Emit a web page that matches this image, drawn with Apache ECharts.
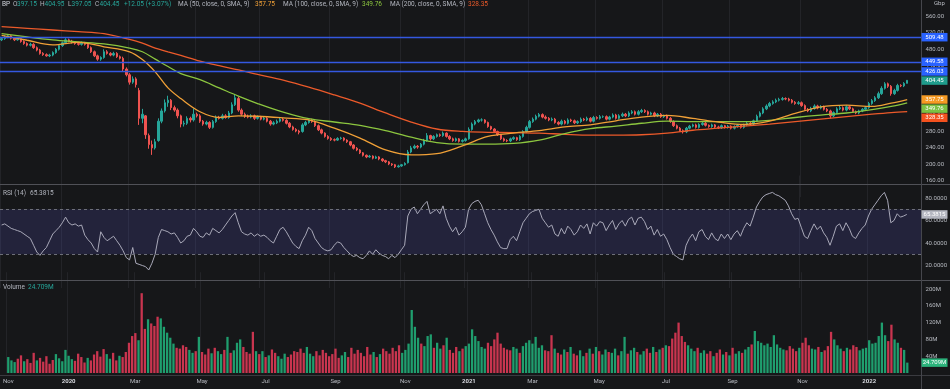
<!DOCTYPE html>
<html><head><meta charset="utf-8">
<script src="https://cdn.jsdelivr.net/npm/echarts@6/dist/echarts.min.js"></script>
<style>html,body{margin:0;padding:0;background:#161719;overflow:hidden}#c{width:950px;height:389px}</style>
</head><body><div id="c"></div>
<script>
// ---- data (each bucket ≈ 2 trading days, Nov 2019 – Feb 2022, GBp) ----
const opens = [
503,506,510,513,507,503,506,499,494,490,
492,484,478,470,467,464,466,472,480,489,
496,503,500,497,494,492,495,492,484,474,
464,456,460,474,470,466,470,462,458,432,
418,400,408,380,312,318,270,248,240,258,
305,330,350,356,338,332,318,298,300,312,
308,322,318,305,298,302,290,304,314,312,
318,314,325,345,360,332,322,317,315,318,
312,315,310,312,305,298,301,305,310,307,
300,291,285,281,280,296,302,308,304,294,
284,276,268,263,260,259,263,264,259,255,
247,239,235,228,222,218,220,215,218,213,
209,206,201,199,194,196,199,204,230,240,
244,242,249,258,270,262,268,272,270,276,
268,262,258,262,256,258,262,285,298,304,
308,308,302,292,286,280,272,262,258,257,
262,265,260,268,280,290,304,310,317,321,
315,312,308,310,302,298,305,300,308,306,
301,304,310,308,312,305,314,312,316,316,
310,315,320,312,318,322,318,325,328,322,
328,331,328,322,325,318,322,316,318,312,
304,294,288,282,279,288,293,296,290,297,
300,295,292,296,291,289,294,290,293,288,
292,295,290,296,300,298,306,317,325,335,
342,348,352,356,358,360,359,356,351,348,
350,343,334,330,336,342,337,340,334,330,
318,326,335,338,332,340,335,328,325,330,
334,338,348,355,362,372,385,396,390,372,
380,392,391,397.15];
const closes = [
506,510,513,507,503,506,499,494,490,492,
484,478,470,467,464,466,472,480,489,496,
503,500,497,494,492,495,492,484,474,464,
456,460,474,470,466,470,462,458,432,418,
400,408,394,312,322,272,248,240,255,305,
330,350,356,338,332,318,298,300,312,308,
322,318,305,298,302,290,304,314,312,318,
314,325,345,362,332,322,317,315,318,312,
315,310,312,305,298,301,305,310,307,300,
291,285,281,278,296,302,308,304,294,284,
276,268,263,260,259,263,264,259,255,247,
239,235,228,222,218,220,215,218,213,209,
206,201,199,194,196,199,202,230,240,244,
242,249,258,270,262,268,272,270,276,268,
262,258,262,256,258,262,285,298,304,308,
308,302,292,286,280,272,262,258,257,262,
265,260,268,280,290,304,310,317,321,315,
312,308,310,302,298,305,300,308,306,301,
304,310,308,312,305,314,312,316,316,310,
315,320,312,318,322,318,325,328,322,328,
331,328,322,325,318,322,316,318,312,304,
294,288,282,279,288,293,296,290,297,300,
295,292,296,291,289,294,290,293,288,292,
295,290,296,300,298,306,317,325,335,342,
348,352,356,358,360,359,356,351,348,350,
343,334,330,336,342,337,340,334,330,318,
326,335,338,332,340,335,328,325,330,334,
338,348,355,362,372,385,396,390,372,380,
392,391,397,404.45];
const highs = [
510,514,516,515,510,509,508,502,497,496,
495,487,481,473,470,469,475,483,492,499,
507,506,503,500,498,499,498,495,487,477,
467,463,480,478,473,474,473,465,462,436,
422,414,412,386,335,320,275,258,262,312,
336,358,367,359,343,336,321,306,317,316,
336,326,322,308,306,305,308,319,318,323,
322,330,351,371,364,336,326,321,322,321,
319,318,316,315,308,305,309,314,313,310,
303,294,288,284,300,306,312,311,307,297,
287,278,271,266,263,266,267,266,261,257,
249,242,237,230,224,223,222,221,220,215,
211,208,203,201,199,201,205,235,245,248,
247,252,262,276,272,271,275,275,280,278,
271,265,265,264,261,265,290,302,308,311,
312,310,304,294,288,282,274,265,261,265,
268,267,271,283,294,308,314,321,325,324,
319,315,314,313,305,309,308,312,311,309,
307,314,313,316,315,318,317,320,319,319,
318,324,323,322,326,325,329,332,331,332,
335,334,331,328,328,325,325,321,321,315,
307,297,291,285,291,296,299,299,300,303,
303,297,299,298,294,297,296,296,295,295,
298,297,299,303,303,309,321,329,339,346,
352,356,360,362,364,363,362,359,354,354,
353,346,337,340,346,345,344,343,337,333,
329,339,342,341,344,343,338,331,333,337,
342,352,359,366,377,390,400,399,393,384,
396,395,400,404.95];
const lows = [
500,503,507,504,500,501,496,491,487,487,
481,475,467,464,462,461,463,469,477,486,
493,497,494,491,489,489,489,481,471,461,
452,452,457,467,463,463,459,455,426,414,
394,396,387,296,300,262,238,223,236,255,
300,326,340,332,328,312,290,292,296,302,
304,314,301,294,295,286,287,301,309,309,
311,311,322,342,328,318,313,312,312,308,
309,307,307,302,294,295,298,302,304,297,
288,282,278,273,277,293,299,301,291,281,
273,265,260,257,256,257,260,256,252,244,
236,232,225,219,215,216,212,213,210,206,
203,198,196,191,192,194,197,202,227,237,
238,239,246,255,258,259,265,267,267,265,
259,255,255,253,253,255,260,282,295,301,
304,299,289,283,277,269,259,255,254,254,
259,257,257,265,277,287,301,307,314,312,
309,305,305,299,295,295,297,297,303,298,
298,301,305,305,302,302,309,309,313,307,
307,312,309,309,315,315,315,322,319,319,
325,325,319,319,315,315,313,313,309,301,
291,285,279,275,276,285,290,287,287,294,
292,289,289,288,286,286,287,287,285,285,
289,287,287,293,295,295,303,314,322,332,
339,345,349,353,355,356,353,348,345,345,
340,331,327,327,333,334,334,331,327,312,
315,323,332,329,329,332,325,322,322,327,
331,335,345,352,359,369,382,386,367,369,
377,388,388,397.05];
// volume in millions
const volumes = [
38,30,26,34,42,28,33,24,48,30,
36,27,40,22,31,45,35,28,55,41,
33,29,46,38,25,36,30,44,52,39,
57,45,34,48,30,41,38,50,72,88,
95,78,190,105,128,118,112,134,130,110,
96,84,70,60,58,66,62,55,48,52,
86,50,44,58,47,60,52,45,55,86,
48,54,72,80,62,50,46,98,52,45,
52,38,42,56,48,40,34,46,38,44,
52,50,58,48,62,46,40,52,42,55,
48,40,45,58,36,42,50,38,60,46,
55,48,40,62,44,50,38,45,58,52,
46,60,52,66,48,55,70,150,110,84,
70,64,88,92,60,72,58,66,84,55,
48,62,52,58,64,70,104,88,76,62,
58,72,64,80,96,70,60,56,54,62,
58,48,64,72,78,70,86,60,66,54,
52,90,58,48,44,56,50,62,46,42,
54,40,48,58,46,62,52,44,56,50,
48,58,42,52,86,46,54,60,50,44,
52,58,48,62,50,56,60,66,64,82,
96,120,88,74,66,58,52,60,48,54,
46,52,40,48,56,44,50,42,60,46,
52,48,56,62,68,100,76,72,66,70,
62,90,68,60,56,54,64,58,52,60,
72,84,66,58,56,62,50,54,64,98,
80,66,58,52,60,56,66,62,54,58,
60,78,70,72,88,120,90,76,115,80,
72,60,55,24.709];
const rsi = [
56,57,55,53,52,51,50,48,46,44,
38,32,29,33,36,42,48,51,54,58,
63,58,56,57,55,56,47,43,40,35,
32,50,45,42,44,46,42,38,33,27,
25,36,22,21,20,19,16,22,30,45,
52,51,50,48,49,45,40,42,46,47,
53,50,46,45,49,47,53,51,49,52,
56,60,64,67,58,50,48,47,49,46,
48,46,47,45,42,40,46,52,54,50,
45,40,37,35,42,47,54,51,44,40,
36,34,33,34,38,41,40,36,33,30,
28,29,27,26,29,33,30,34,31,29,
28,26,29,27,30,34,38,64,70,72,
66,70,74,77,66,68,70,66,73,62,
55,50,54,47,50,54,70,75,77,78,
74,66,58,52,47,41,36,35,35,43,
46,42,50,58,62,66,68,69,70,62,
58,54,56,48,46,53,48,55,52,47,
50,56,53,57,48,58,55,59,58,51,
56,60,52,57,60,55,61,63,56,62,
63,59,52,55,47,52,46,48,43,36,
30,28,26,25,38,44,48,42,50,52,
46,43,49,44,42,48,44,48,43,48,
51,46,53,58,55,63,72,77,81,83,
84,85,83,82,80,78,73,66,61,62,
54,46,44,51,57,52,55,49,45,38,
46,55,57,51,58,53,46,44,49,53,
56,64,70,74,78,82,85,78,58,60,
66,63,64,65.3815];
// moving averages sampled at bucket indices
const maIdx = [0,8,16,24,32,40,44,48,52,56,62,68,74,80,88,96,104,112,120,128,136,144,152,160,168,176,184,192,200,208,216,224,232,240,248,256,264,272,278,283];
const ma50  = [514,502,491,497,486,474,455,425,386,360,328,314,318,317,313,308,288,264,235,223,226,245,268,276,282,291,296,306,315,319,312,303,297,305,324,340,344,341,349,357.75];
const ma100 = [518,510,503,498,493,483,474,456,438,421,406,386,366,348,327,311,303,295,282,266,253,249,249,251,259,275,287,293,300,305,304,304,304,307,314,320,325,333,341,349.76];
const ma200 = [535,531,527,523,518,504,495,483,474,465,451,440,430,419,405,388,369,349,325,303,286,280,278,277,276,273,271,271,272,276,283,288,293,298,304,310,316,322,326,328.35];
const hLines = [509.48, 449.58, 426.03];
const changeText = '+12.05 (+3.07%)';
const tickIdx = [0,19,40,61,81,103,125,145,165,186,207,228,250,271];
const tickLabels = ['Nov','2020','Mar','May','Jul','Sep','Nov','2021','Mar','May','Jul','Sep','Nov','2022'];
const nCats = 288;

// ---- build ----
const FONT = 'Roboto, "Noto Sans", sans-serif';
const UP = '#26a69a', DOWN = '#ef5350';
const VUP = '#1f9e6e', VDOWN = '#c9354f';
const C50 = '#f0a037', C100 = '#8cc63f', C200 = '#ec5a2a';
const BLUE_LINE = '#3458e0';
const AX = '#b8bbc2';
const cats = [];
for (let i = 0; i < nCats; i++) cats.push('c' + i);
const labelMap = {};
tickIdx.forEach((t, k) => labelMap[t] = tickLabels[k]);
const ohlc = opens.map((o, i) => [o, closes[i], lows[i], highs[i]]);
const volData = volumes.map((v, i) => ({value: v, itemStyle: {color: closes[i] >= opens[i] ? VUP : VDOWN}}));
const maLine = arr => maIdx.map((x, k) => [x, arr[k]]);

const splitInt = (idx) => labelMap[idx] !== undefined;
function xAx(gi, showLabel) {
  return {
    type: 'category', gridIndex: gi, data: cats, boundaryGap: true,
    axisLine: {show: false}, axisTick: {show: false},
    splitLine: {show: true, interval: splitInt, lineStyle: {color: '#232428', width: 1}},
    axisLabel: showLabel ? {
      show: true, interval: 0, margin: 5, fontSize: 6, color: AX, fontFamily: FONT,
      formatter: (v, idx) => {
        const l = labelMap[idx];
        if (l === undefined) return '';
        return /^\d{4}$/.test(l) ? '{y|' + l + '}' : l;
      },
      rich: {y: {fontSize: 6, fontWeight: 'bold', color: '#d6d8de', fontFamily: FONT}}
    } : {show: false}
  };
}
function yAx(gi, min, max, interval, fmt) {
  return {
    type: 'value', gridIndex: gi, position: 'right', min, max, interval, scale: false,
    axisLine: {show: false}, axisTick: {show: false}, splitLine: {show: false},
    axisLabel: {show: true, margin: 4, fontSize: 6, color: AX, fontFamily: FONT, formatter: fmt}
  };
}

const option = {
  backgroundColor: '#161719',
  animation: false,
  grid: [
    {left: 0, right: 28.4, top: -4.4, height: 201.6},
    {left: 0, right: 28.4, top: 175.5, height: 112.5},
    {left: 0, right: 28.4, top: 272.2, height: 100.8}
  ],
  xAxis: [xAx(0, false), xAx(1, false), xAx(2, true)],
  yAxis: [
    yAx(0, 120, 600, 40, v => (v >= 160 && v <= 560) ? v.toFixed(2) : ''),
    yAx(1, 0, 100, 20, v => (v >= 20 && v <= 80) ? v.toFixed(4) : ''),
    yAx(2, 0, 240, 40, v => (v > 0 && v < 240) ? v + 'M' : '')
  ],
  series: [
    {
      type: 'line', xAxisIndex: 0, yAxisIndex: 0, data: [], silent: true,
      markLine: {
        symbol: 'none', silent: true, label: {show: false}, animation: false,
        lineStyle: {color: BLUE_LINE, width: 1.4, type: 'solid', opacity: 1},
        emphasis: {disabled: true},
        data: hLines.map(v => ({yAxis: v}))
      }
    },
    {
      type: 'candlestick', xAxisIndex: 0, yAxisIndex: 0, data: ohlc, barWidth: 2,
      itemStyle: {color: UP, color0: DOWN, borderColor: UP, borderColor0: DOWN, borderWidth: 1}
    },
    {type: 'line', xAxisIndex: 0, yAxisIndex: 0, data: maLine(ma200), smooth: 0.35, symbol: 'none', lineStyle: {color: C200, width: 1.3}},
    {type: 'line', xAxisIndex: 0, yAxisIndex: 0, data: maLine(ma100), smooth: 0.35, symbol: 'none', lineStyle: {color: C100, width: 1.3}},
    {type: 'line', xAxisIndex: 0, yAxisIndex: 0, data: maLine(ma50), smooth: 0.35, symbol: 'none', lineStyle: {color: C50, width: 1.3}},
    {
      type: 'line', xAxisIndex: 1, yAxisIndex: 1, data: rsi, symbol: 'none',
      lineStyle: {color: '#a9a9b9', width: 1},
      markArea: {silent: true, itemStyle: {color: 'rgba(80,80,180,0.22)'}, data: [[{yAxis: 30}, {yAxis: 70}]]},
      markLine: {symbol: 'none', silent: true, label: {show: false},
        lineStyle: {color: '#6d6f78', width: 1, type: [3, 3]}, data: [{yAxis: 70}, {yAxis: 30}]}
    },
    {type: 'bar', xAxisIndex: 2, yAxisIndex: 2, data: volData, barWidth: '72%'}
  ]
};

const chart = echarts.init(document.getElementById('c'), null, {renderer: 'canvas'});
chart.setOption(option);

// ---- overlays: legends, separators, axis badges ----
const g = [];
function txt(x, y, s, fill, size, weight) {
  g.push({type: 'text', z: 100, style: {x, y, text: s, fill, font: (weight || 'normal') + ' ' + (size || 6.5) + 'px ' + FONT, verticalAlign: 'middle', align: 'left'}});
}
function line(x1, y1, x2, y2, c) {
  g.push({type: 'line', z: 90, shape: {x1, y1, x2, y2}, style: {stroke: c, lineWidth: 1}});
}
line(0, 184.5, 950, 184.5, '#505157');
line(0, 280.5, 950, 280.5, '#505157');
line(0, 375.5, 950, 375.5, '#3a3b40');
line(921.5, 0, 921.5, 389, '#45464c');

const LG = '#b2b5be';
const last = closes.length - 1;
txt(2, 4.5, 'BP', '#d1d4dc', 6.5);
txt(13, 4.5, 'O', LG); txt(17, 4.5, opens[last].toFixed(2), UP);
txt(40, 4.5, 'H', LG); txt(44.5, 4.5, highs[last].toFixed(2), UP);
txt(68, 4.5, 'L', LG); txt(71.5, 4.5, lows[last].toFixed(2), UP);
txt(95, 4.5, 'C', LG); txt(99.5, 4.5, closes[last].toFixed(2), UP);
txt(124, 4.5, changeText, UP);
txt(178, 4.5, 'MA (50, close, 0, SMA, 9)', LG); txt(255, 4.5, ma50[ma50.length - 1].toFixed(2), C50);
txt(283, 4.5, 'MA (100, close, 0, SMA, 9)', LG); txt(362, 4.5, ma100[ma100.length - 1].toFixed(2), C100);
txt(390, 4.5, 'MA (200, close, 0, SMA, 9)', LG); txt(468, 4.5, ma200[ma200.length - 1].toFixed(2), C200);
txt(934, 3, 'Gbp', AX, 6);
txt(3, 193, 'RSI (14)', LG); txt(30, 193, rsi[last].toFixed(4), LG);
txt(3, 287, 'Volume', LG); txt(28, 287, volumes[last].toFixed(3) + 'M', UP);

const BH = 8.5;
function badges(list, axis) {
  let prevBottom = -1e9;
  list.forEach(b => {
    const y = chart.convertToPixel({yAxisIndex: axis}, b.v);
    const top = Math.max(y - BH / 2, prevBottom + 0.6);
    prevBottom = top + BH;
    g.push({type: 'rect', z: 110, shape: {x: 921.5, y: top, width: 26, height: BH}, style: {fill: b.bg}});
    g.push({type: 'text', z: 111, style: {x: 934.5, y: top + BH / 2, text: b.t, fill: b.fg || '#ffffff', font: '6px ' + FONT, align: 'center', verticalAlign: 'middle'}});
  });
}
badges([
  {v: hLines[0], t: hLines[0].toFixed(2), bg: '#2962ff'},
  {v: hLines[1], t: hLines[1].toFixed(2), bg: '#2962ff'},
  {v: hLines[2], t: hLines[2].toFixed(2), bg: '#2962ff'},
  {v: closes[last], t: closes[last].toFixed(2), bg: '#1f9c8c'},
  {v: ma50[ma50.length - 1], t: ma50[ma50.length - 1].toFixed(2), bg: '#f59a23'},
  {v: ma100[ma100.length - 1], t: ma100[ma100.length - 1].toFixed(2), bg: '#7cc243'},
  {v: ma200[ma200.length - 1], t: ma200[ma200.length - 1].toFixed(2), bg: '#f4511e'}
], 0);
badges([{v: rsi[last], t: rsi[last].toFixed(4), bg: '#b4b6c0'}], 1);
badges([{v: volumes[last], t: volumes[last].toFixed(3) + 'M', bg: '#2bb37b'}], 2);

chart.setOption({graphic: g});
</script>
</body></html>
